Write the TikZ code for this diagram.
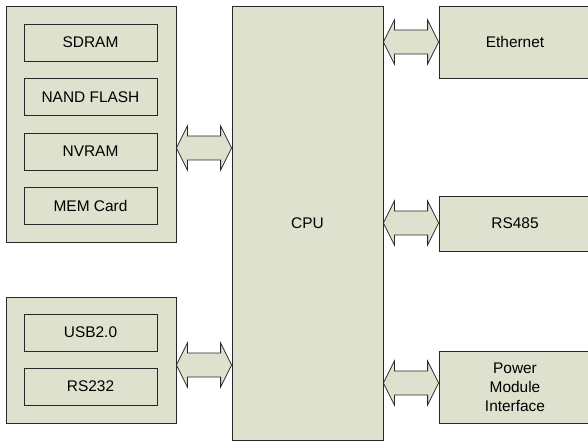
\documentclass[tikz,border=0pt]{standalone}
\usepackage{fontspec}
\setmainfont{Liberation Sans}
\usetikzlibrary{calc}
\definecolor{boxfill}{RGB}{221,225,205}
\definecolor{boxline}{RGB}{40,40,40}
\begin{document}
\begin{tikzpicture}[x=1bp, y=-1bp,
  blk/.style={draw=boxline, fill=boxfill, line width=0.8bp, inner sep=0pt,
    font=\fontsize{15.5}{19}\selectfont, align=center},
  inbox/.style={blk, minimum width=133bp, minimum height=37bp},
  side/.style={blk, minimum width=152bp},
  bus/.style={draw=boxline, fill=boxfill, line width=0.8bp, to path={
    let \p1=(\tikztostart), \p2=(\tikztotarget) in
    (\x1,\y1) -- (\x1+11bp,\y1+22bp) -- (\x1+11bp,\y1+12bp) -- (\x2-11bp,\y2+12bp)
    -- (\x2-11bp,\y2+22bp) -- (\x2,\y2) -- (\x2-11bp,\y2-22bp) -- (\x2-11bp,\y2-12bp)
    -- (\x1+11bp,\y1-12bp) -- (\x1+11bp,\y1-22bp) -- cycle}}]
\useasboundingbox (0,0) rectangle (588,442);
% memoria
\node[blk, minimum width=170bp, minimum height=236bp] (mem) at (91,124) {};
\node[inbox] (sdram) at (90.5,42.5) {SDRAM};
\node[inbox] (nand) at (90.5,97) {NAND FLASH};
\node[inbox] (nvram) at (90.5,151.5) {NVRAM};
\node[inbox] (memcard) at (90.5,206) {MEM Card};
% interfaces
\node[blk, minimum width=170bp, minimum height=126bp] (io) at (91,360) {};
\node[inbox] (usb) at (90.5,332.5) {USB2.0};
\node[inbox] (rs232) at (90.5,386.5) {RS232};
% CPU
\node[blk, minimum width=151bp, minimum height=434bp] (cpu) at (307.5,223) {CPU};
% lado direito
\node[side, minimum height=72bp] (eth) at (515,42) {Ethernet};
\node[side, minimum height=55bp] (rs485) at (515,223.5) {RS485};
\node[side, minimum height=72bp] (power) at (515,387) {Power\\Module\\Interface};
% barramentos
\draw[bus] (mem.east |- 0,148) to (cpu.west |- 0,148);
\draw[bus] (io.east |- 0,365) to (cpu.west |- 0,365);
\draw[bus] (cpu.east |- 0,42) to (eth.west |- 0,42);
\draw[bus] (cpu.east |- 0,223) to (rs485.west |- 0,223);
\draw[bus] (cpu.east |- 0,383) to (power.west |- 0,383);
\end{tikzpicture}
\end{document}
